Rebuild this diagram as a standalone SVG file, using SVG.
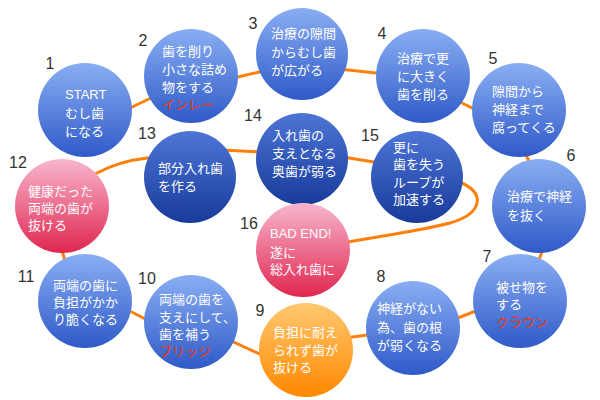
<svg xmlns="http://www.w3.org/2000/svg" width="600" height="400" viewBox="0 0 600 400">
<style>
.bg{fill:#ffffff}
.con{fill:none;stroke:#ff7f0a;stroke-width:3;stroke-linecap:round}
.t{font-family:"Liberation Sans","Noto Sans CJK JP",sans-serif;font-size:13px;fill:#ffffff}
.red{fill:#ff3300}
.num{font-family:"Liberation Sans","DejaVu Sans",sans-serif;font-size:16px;fill:#333333;text-anchor:middle}
.blue{fill:url(#gBlue)}
.dark{fill:url(#gDark)}
.pink{fill:url(#gPink)}
.orange{fill:url(#gOrange)}
</style>
<defs>
<linearGradient id="gBlue" x1="0" y1="0" x2="0" y2="1">
<stop offset="0" stop-color="#8aaef3"/>
<stop offset="1" stop-color="#2f5ac8"/>
</linearGradient>
<linearGradient id="gDark" x1="0" y1="0" x2="0" y2="1">
<stop offset="0" stop-color="#4d76d6"/>
<stop offset="1" stop-color="#183a9b"/>
</linearGradient>
<linearGradient id="gPink" x1="0" y1="0" x2="0" y2="1">
<stop offset="0" stop-color="#f8b6ce"/>
<stop offset="1" stop-color="#e0264f"/>
</linearGradient>
<linearGradient id="gOrange" x1="0" y1="0" x2="0" y2="1">
<stop offset="0" stop-color="#ffc870"/>
<stop offset="1" stop-color="#ff8800"/>
</linearGradient>
</defs>
<rect class="bg" x="0" y="0" width="600" height="400"/>
<g id="connectors">
<line class="con" x1="124" y1="111" x2="155" y2="96"/>
<line class="con" x1="229" y1="79" x2="268" y2="70"/>
<line class="con" x1="339" y1="69" x2="385" y2="74"/>
<line class="con" x1="454" y1="99" x2="480" y2="112"/>
<line class="con" x1="523" y1="149" x2="532" y2="167"/>
<line class="con" x1="545" y1="244" x2="537" y2="265"/>
<line class="con" x1="481" y1="309" x2="450" y2="321"/>
<line class="con" x1="375" y1="334" x2="345" y2="338"/>
<line class="con" x1="266" y1="357" x2="227" y2="339"/>
<line class="con" x1="151" y1="322" x2="124" y2="308"/>
<line class="con" x1="66" y1="264" x2="60" y2="244"/>
<path class="con" d="M 85,180 L 97,173 C 112,165 130,160 147,158 L 157,157"/>
<line class="con" x1="222" y1="150" x2="263" y2="152"/>
<line class="con" x1="343" y1="157" x2="380" y2="163"/>
<path class="con" d="M 455,180 C 471,186 479,194 477,203 C 475,212 464,219 450,223 C 420,231 380,236 342,243"/>
</g>
<g id="node1">
<circle class="blue" cx="85" cy="110" r="47"/>
<text class="num" x="50" y="69">1</text>
<text class="t"><tspan x="65" y="99">START</tspan><tspan x="65" y="118">むし歯</tspan><tspan x="65" y="136">になる</tspan></text>
</g>
<g id="node2">
<circle class="blue" cx="191" cy="76" r="47"/>
<text class="num" x="143" y="46">2</text>
<text class="t"><tspan x="162" y="56">歯を削り</tspan><tspan x="162" y="74">小さな詰め</tspan><tspan x="162" y="92">物をする</tspan><tspan class="red" x="162" y="109">インレー</tspan></text>
</g>
<g id="node3">
<circle class="blue" cx="302" cy="54" r="46"/>
<text class="num" x="253" y="29">3</text>
<text class="t"><tspan x="271" y="38">治療の隙間</tspan><tspan x="271" y="57">からむし歯</tspan><tspan x="271" y="75">が広がる</tspan></text>
</g>
<g id="node4">
<circle class="blue" cx="423" cy="76" r="47"/>
<text class="num" x="382" y="39">4</text>
<text class="t"><tspan x="397" y="63">治療で更</tspan><tspan x="397" y="81">に大きく</tspan><tspan x="397" y="99">歯を削る</tspan></text>
</g>
<g id="node5">
<circle class="blue" cx="519" cy="110" r="47"/>
<text class="num" x="493" y="64">5</text>
<text class="t"><tspan x="492" y="96">隙間から</tspan><tspan x="492" y="114">神経まで</tspan><tspan x="492" y="132">腐ってくる</tspan></text>
</g>
<g id="node6">
<circle class="blue" cx="539" cy="206" r="47"/>
<text class="num" x="571" y="161">6</text>
<text class="t"><tspan x="507" y="201">治療で神経</tspan><tspan x="507" y="220">を抜く</tspan></text>
</g>
<g id="node7">
<circle class="blue" cx="520" cy="301" r="47"/>
<text class="num" x="487" y="262">7</text>
<text class="t"><tspan x="496" y="292">被せ物を</tspan><tspan x="496" y="309">する</tspan><tspan class="red" x="496" y="327">クラウン</tspan></text>
</g>
<g id="node8">
<circle class="blue" cx="413" cy="328" r="47"/>
<text class="num" x="381" y="282">8</text>
<text class="t"><tspan x="377" y="313">神経がない</tspan><tspan x="377" y="332">為、歯の根</tspan><tspan x="377" y="350">が弱くなる</tspan></text>
</g>
<g id="node9">
<circle class="orange" cx="306" cy="350" r="47"/>
<text class="num" x="260" y="316">9</text>
<text class="t"><tspan x="273" y="337">負担に耐え</tspan><tspan x="273" y="355">られず歯が</tspan><tspan x="273" y="372">抜ける</tspan></text>
</g>
<g id="node10">
<circle class="blue" cx="191" cy="322" r="47"/>
<text class="num" x="147" y="284">10</text>
<text class="t"><tspan x="159" y="304">両端の歯を</tspan><tspan x="159" y="322">支えにして、</tspan><tspan x="159" y="339">歯を補う</tspan><tspan class="red" x="159" y="356">ブリッジ</tspan></text>
</g>
<g id="node11">
<circle class="blue" cx="85" cy="301" r="47"/>
<text class="num" x="26" y="282">11</text>
<text class="t"><tspan x="53" y="290">両端の歯に</tspan><tspan x="53" y="307">負担がかか</tspan><tspan x="53" y="324">り脆くなる</tspan></text>
</g>
<g id="node12">
<circle class="pink" cx="62" cy="206" r="47"/>
<text class="num" x="18" y="168">12</text>
<text class="t"><tspan x="28" y="196">健康だった</tspan><tspan x="28" y="213">両端の歯が</tspan><tspan x="28" y="230">抜ける</tspan></text>
</g>
<g id="node13">
<circle class="dark" cx="190" cy="177" r="46"/>
<text class="num" x="147" y="139">13</text>
<text class="t"><tspan x="158" y="173">部分入れ歯</tspan><tspan x="158" y="191">を作る</tspan></text>
</g>
<g id="node14">
<circle class="dark" cx="302" cy="159" r="46"/>
<text class="num" x="253" y="121">14</text>
<text class="t"><tspan x="272" y="140">入れ歯の</tspan><tspan x="272" y="158">支えとなる</tspan><tspan x="272" y="176">奥歯が弱る</tspan></text>
</g>
<g id="node15">
<circle class="dark" cx="417" cy="177" r="46"/>
<text class="num" x="370" y="141">15</text>
<text class="t"><tspan x="393" y="152">更に</tspan><tspan x="393" y="169">歯を失う</tspan><tspan x="393" y="187">ループが</tspan><tspan x="393" y="204">加速する</tspan></text>
</g>
<g id="node16">
<circle class="pink" cx="303" cy="250" r="47"/>
<text class="num" x="249" y="229">16</text>
<text class="t"><tspan x="270" y="238">BAD END!</tspan><tspan x="270" y="257">遂に</tspan><tspan x="270" y="274">総入れ歯に</tspan></text>
</g>
</svg>
